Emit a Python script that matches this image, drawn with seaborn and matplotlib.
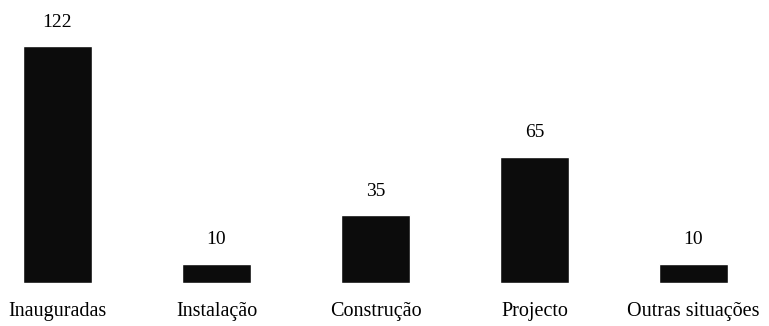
import matplotlib
matplotlib.use("Agg")
import matplotlib.pyplot as plt
import seaborn as sns
import pandas as pd

categories = ["Inauguradas", "Instalação", "Construção", "Projecto", "Outras situações"]
values = [122, 10, 35, 65, 10]

sns.set_theme(style="white")
plt.rcParams["font.family"] = ["Liberation Serif", "DejaVu Serif"]

df = pd.DataFrame({"categoria": categories, "n": values})

fig = plt.figure(figsize=(7.69, 3.26), dpi=100)
ax = fig.add_axes([0, 43 / 326, 1, 283 / 326])

sns.barplot(data=df, x="categoria", y="n", color="#0c0c0c", width=0.43,
            saturation=1, ax=ax)

for c in ax.containers:
    ax.bar_label(c, labels=[str(v) for v in values], padding=11, fontsize=14,
                 color="black")

ax.set_xlim(-57.5 / 159, (769 - 57.5) / 159)
ax.set_ylim(0, 145.7)
ax.set_xlabel("")
ax.set_ylabel("")
ax.set_yticks([])
ax.tick_params(axis="x", length=0, pad=14, labelsize=14.5, labelcolor="black")
for s in ax.spines.values():
    s.set_visible(False)

fig.savefig("out.png", dpi=100, facecolor="white")
